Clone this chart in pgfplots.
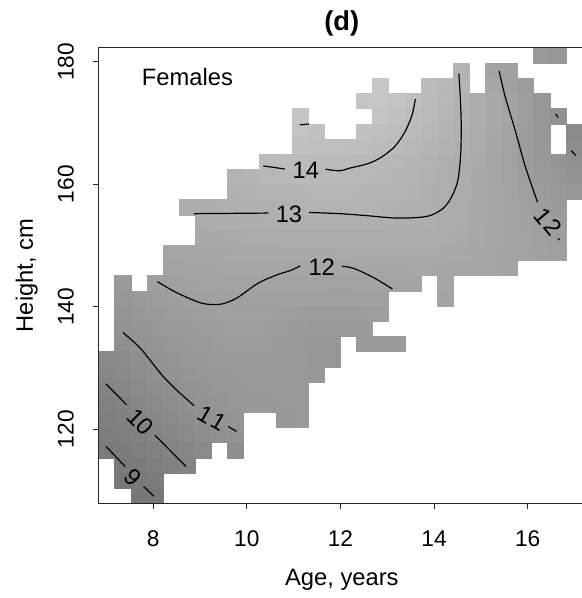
\documentclass[border=0pt]{standalone}
\usepackage{fontspec}
\setmainfont{Liberation Sans}
\usepackage{pgfplots}
\usepackage{pgfplotstable}
\pgfplotsset{compat=1.18}

\pgfplotstableread[row sep=\\]{
c r g\\
27 0 152\\ 28 0 150\\
22 1 178\\ 24 1 162\\ 25 1 160\\
17 2 198\\ 20 2 186\\ 21 2 184\\ 22 2 180\\ 24 2 165\\ 25 2 160\\ 26 2 155\\
16 3 196\\ 17 3 198\\ 18 3 195\\ 19 3 190\\ 20 3 186\\ 21 3 182\\ 22 3 178\\ 23 3 172\\ 24 3 168\\ 25 3 163\\ 26 3 157\\ 27 3 150\\
12 4 196\\ 17 4 195\\ 18 4 192\\ 19 4 188\\ 20 4 185\\ 21 4 181\\ 22 4 177\\ 23 4 172\\ 24 4 168\\ 25 4 163\\ 26 4 157\\ 27 4 150\\ 28 4 145\\
12 5 194\\ 13 5 192\\ 16 5 192\\ 17 5 190\\ 18 5 188\\ 19 5 185\\ 20 5 182\\ 21 5 179\\ 22 5 175\\ 23 5 171\\ 24 5 167\\ 25 5 162\\ 26 5 156\\ 27 5 150\\ 29 5 138\\
12 6 191\\ 13 6 190\\ 14 6 190\\ 15 6 189\\ 16 6 188\\ 17 6 187\\ 18 6 185\\ 19 6 183\\ 20 6 180\\ 21 6 177\\ 22 6 174\\ 23 6 170\\ 24 6 166\\ 25 6 161\\ 26 6 156\\ 27 6 151\\ 29 6 140\\
10 7 186\\ 11 7 187\\ 12 7 187\\ 13 7 187\\ 14 7 186\\ 15 7 186\\ 16 7 185\\ 17 7 184\\ 18 7 182\\ 19 7 180\\ 20 7 178\\ 21 7 175\\ 22 7 172\\ 23 7 169\\ 24 7 165\\ 25 7 161\\ 26 7 156\\ 27 7 152\\ 28 7 148\\ 29 7 143\\
8 8 178\\ 9 8 180\\ 10 8 182\\ 11 8 183\\ 12 8 184\\ 13 8 184\\ 14 8 184\\ 15 8 183\\ 16 8 182\\ 17 8 181\\ 18 8 180\\ 19 8 178\\ 20 8 176\\ 21 8 174\\ 22 8 172\\ 23 8 168\\ 24 8 165\\ 25 8 161\\ 26 8 157\\ 27 8 153\\ 28 8 150\\ 29 8 146\\
8 9 176\\ 9 9 177\\ 10 9 178\\ 11 9 179\\ 12 9 180\\ 13 9 181\\ 14 9 181\\ 15 9 181\\ 16 9 180\\ 17 9 179\\ 18 9 178\\ 19 9 177\\ 20 9 175\\ 21 9 173\\ 22 9 171\\ 23 9 168\\ 24 9 165\\ 25 9 162\\ 26 9 158\\ 27 9 155\\ 28 9 152\\ 29 9 149\\
5 10 172\\ 6 10 172\\ 7 10 173\\ 8 10 174\\ 9 10 175\\ 10 10 175\\ 11 10 176\\ 12 10 177\\ 13 10 178\\ 14 10 178\\ 15 10 178\\ 16 10 178\\ 17 10 177\\ 18 10 176\\ 19 10 175\\ 20 10 174\\ 21 10 172\\ 22 10 170\\ 23 10 168\\ 24 10 165\\ 25 10 162\\ 26 10 159\\ 27 10 156\\ 28 10 153\\
6 11 170\\ 7 11 171\\ 8 11 172\\ 9 11 172\\ 10 11 173\\ 11 11 174\\ 12 11 174\\ 13 11 175\\ 14 11 175\\ 15 11 175\\ 16 11 175\\ 17 11 175\\ 18 11 174\\ 19 11 174\\ 20 11 173\\ 21 11 171\\ 22 11 170\\ 23 11 168\\ 24 11 165\\ 25 11 163\\ 26 11 160\\ 27 11 158\\ 28 11 156\\
6 12 168\\ 7 12 168\\ 8 12 169\\ 9 12 170\\ 10 12 170\\ 11 12 171\\ 12 12 171\\ 13 12 172\\ 14 12 172\\ 15 12 172\\ 16 12 172\\ 17 12 172\\ 18 12 172\\ 19 12 172\\ 20 12 171\\ 21 12 170\\ 22 12 169\\ 23 12 167\\ 24 12 165\\ 25 12 163\\ 26 12 161\\ 27 12 159\\ 28 12 157\\
4 13 164\\ 5 13 165\\ 6 13 166\\ 7 13 166\\ 8 13 167\\ 9 13 167\\ 10 13 167\\ 11 13 168\\ 12 13 168\\ 13 13 168\\ 14 13 168\\ 15 13 169\\ 16 13 169\\ 17 13 169\\ 18 13 169\\ 19 13 169\\ 20 13 169\\ 21 13 168\\ 22 13 167\\ 23 13 166\\ 24 13 164\\ 25 13 163\\ 26 13 161\\ 27 13 160\\ 28 13 158\\
4 14 162\\ 5 14 163\\ 6 14 163\\ 7 14 164\\ 8 14 164\\ 9 14 165\\ 10 14 165\\ 11 14 165\\ 12 14 165\\ 13 14 165\\ 14 14 165\\ 15 14 165\\ 16 14 166\\ 17 14 166\\ 18 14 166\\ 19 14 167\\ 20 14 167\\ 21 14 166\\ 22 14 165\\ 23 14 165\\ 24 14 164\\ 25 14 163\\
1 15 152\\ 3 15 158\\ 4 15 159\\ 5 15 160\\ 6 15 161\\ 7 15 161\\ 8 15 162\\ 9 15 162\\ 10 15 162\\ 11 15 162\\ 12 15 162\\ 13 15 162\\ 14 15 161\\ 15 15 161\\ 16 15 161\\ 17 15 162\\ 18 15 163\\ 19 15 163\\ 21 15 165\\
1 16 150\\ 2 16 152\\ 3 16 155\\ 4 16 157\\ 5 16 158\\ 6 16 159\\ 7 16 160\\ 8 16 160\\ 9 16 160\\ 10 16 160\\ 11 16 159\\ 12 16 159\\ 13 16 158\\ 14 16 158\\ 15 16 158\\ 16 16 159\\ 17 16 160\\ 21 16 163\\
1 17 148\\ 2 17 150\\ 3 17 153\\ 4 17 155\\ 5 17 156\\ 6 17 157\\ 7 17 158\\ 8 17 158\\ 9 17 158\\ 10 17 158\\ 11 17 157\\ 12 17 156\\ 13 17 155\\ 14 17 155\\ 15 17 155\\ 16 17 156\\ 17 17 157\\
1 18 146\\ 2 18 148\\ 3 18 151\\ 4 18 153\\ 5 18 154\\ 6 18 155\\ 7 18 156\\ 8 18 157\\ 9 18 157\\ 10 18 156\\ 11 18 155\\ 12 18 154\\ 13 18 152\\ 14 18 152\\ 15 18 153\\ 16 18 154\\
1 19 143\\ 2 19 146\\ 3 19 148\\ 4 19 151\\ 5 19 152\\ 6 19 153\\ 7 19 155\\ 8 19 155\\ 9 19 155\\ 10 19 155\\ 11 19 154\\ 12 19 152\\ 13 19 151\\ 14 19 150\\ 16 19 152\\ 17 19 153\\ 18 19 154\\
0 20 136\\ 1 20 138\\ 2 20 142\\ 3 20 146\\ 4 20 148\\ 5 20 150\\ 6 20 151\\ 7 20 153\\ 8 20 154\\ 9 20 154\\ 10 20 154\\ 11 20 153\\ 12 20 152\\ 13 20 150\\ 14 20 150\\
0 21 134\\ 1 21 136\\ 2 21 140\\ 3 21 143\\ 4 21 146\\ 5 21 148\\ 6 21 150\\ 7 21 151\\ 8 21 152\\ 9 21 153\\ 10 21 153\\ 11 21 152\\ 12 21 152\\ 13 21 151\\
0 22 131\\ 1 22 133\\ 2 22 137\\ 3 22 140\\ 4 22 143\\ 5 22 146\\ 6 22 148\\ 7 22 150\\ 8 22 151\\ 9 22 152\\ 10 22 152\\ 11 22 152\\ 12 22 152\\
0 23 128\\ 1 23 130\\ 2 23 134\\ 3 23 137\\ 4 23 140\\ 5 23 143\\ 6 23 146\\ 7 23 148\\ 8 23 150\\ 9 23 151\\ 10 23 151\\ 11 23 152\\ 12 23 152\\
0 24 126\\ 1 24 128\\ 2 24 131\\ 3 24 134\\ 4 24 137\\ 5 24 140\\ 6 24 143\\ 7 24 146\\ 8 24 148\\ 11 24 151\\ 12 24 152\\
0 25 124\\ 1 25 125\\ 2 25 128\\ 3 25 131\\ 4 25 134\\ 5 25 137\\ 6 25 140\\ 7 25 143\\ 8 25 146\\
0 26 122\\ 1 26 123\\ 2 26 125\\ 3 26 128\\ 4 26 131\\ 5 26 134\\ 6 26 137\\ 8 26 142\\
1 27 121\\ 2 27 122\\ 3 27 125\\ 4 27 128\\ 5 27 131\\
1 28 119\\ 2 28 120\\ 3 28 122\\
2 29 118\\ 3 29 119\\
}\cells

\begin{document}
\begin{tikzpicture}
\path[use as bounding box] (-73.875pt,-71pt) rectangle (362.6pt,377.5pt);
\begin{axis}[
	at={(0pt,0pt)},
	anchor=south west,
	scale only axis,
	width=365pt,
	height=341.7pt,
	xmin=6.83,
	xmax=17.229,
	ymin=107.9,
	ymax=182.3,
	axis on top,
	clip marker paths=true,
	axis line style={color=black!85,line width=1pt},
	xtick={8,10,...,16},
	ytick={120,140,...,180},
	xtick pos=bottom,
	ytick pos=left,
	tick align=outside,
	major tick length=4pt,
	tick style={color=black!85,line width=0.8pt},
	/pgf/number format/assume math mode=true,
	tick label style={font=\fontsize{17}{19}\selectfont},
	xticklabel style={yshift=-13pt},
	yticklabel style={xshift=-11pt,rotate=90,anchor=south},
	colormap={bw}{gray(0cm)=(0);gray(1cm)=(1)},
	point meta min=0,
	point meta max=255,
	xlabel={Age, years},
	ylabel={Height, cm},
	label style={font=\fontsize{17.8}{20}\selectfont},
	xlabel style={yshift=-10pt},
	ylabel style={yshift=8pt},
	title={\textbf{(d)}},
	title style={font=\fontsize{20.5}{23}\selectfont,yshift=-1pt},
	]

	% image cells, grey level read per cell
	\addplot[scatter,only marks,mark=square*,mark size=6pt,
		scatter src=explicit,
		scatter/use mapped color={draw=mapped color,fill=mapped color},
		mark options={xscale=1.0075,yscale=0.95,line width=0.2pt}]
		table[x expr=6.83+0.3443*(\thisrow{c}+0.5),y expr=182.3-2.48*(\thisrow{r}+0.5),meta=g]{\cells};

	% contours
	\addplot[black,line width=0.9pt] coordinates {(6.99,117.2)(7.40,113.9)};
	\addplot[black,line width=0.9pt] coordinates {(7.79,110.67)(8.015,109.04)};
	\addplot[black,line width=0.9pt] coordinates {(6.99,127.4)(7.43,124.0)};
	\addplot[black,line width=0.9pt] coordinates {(8.04,119.0)(8.70,113.9)};
	\addplot[black,line width=0.9pt,smooth] coordinates {(7.35,135.8)(7.72,133.25)(8.18,128.9)(8.50,126.4)(8.87,123.85)};
	\addplot[black,line width=0.9pt] coordinates {(9.60,120.46)(9.78,119.64)};
	\addplot[black,line width=0.9pt,smooth] coordinates {(8.09,144.1)(8.5,142.3)(9.03,140.6)(9.43,140.4)(9.78,141.4)(10.24,143.85)(10.64,145.2)(10.96,146.0)(11.14,146.7)};
	\addplot[black,line width=0.9pt,smooth] coordinates {(12.03,146.6)(12.27,146.3)(12.7,144.8)(13.11,142.9)};
	\addplot[black,line width=0.9pt] coordinates {(8.87,155.2)(10.46,155.3)};
	\addplot[black,line width=0.9pt,smooth] coordinates {(11.33,155.4)(11.99,155.2)(12.53,154.9)(13.14,154.5)(13.6,154.55)(13.92,154.9)(14.2,156.1)(14.38,158)(14.51,160.7)(14.57,165.06)(14.58,169.95)(14.56,174.3)(14.53,178.1)};
	\addplot[black,line width=0.9pt] coordinates {(10.35,163.0)(10.81,162.5)};
	\addplot[black,line width=0.9pt,smooth] coordinates {(11.68,162.45)(11.99,162.2)(12.18,162.6)(12.6,163.4)(12.89,164.5)(13.17,166.25)(13.38,168.6)(13.53,171.3)(13.6,173.9)};
	\addplot[black,line width=0.9pt] coordinates {(11.13,169.7)(11.33,169.85)};
	\addplot[black,line width=0.9pt,smooth] coordinates {(15.39,178.5)(15.52,174.3)(15.73,168.9)(15.95,162.9)(16.21,157.1)};
	\addplot[black,line width=0.9pt] coordinates {(16.65,151.15)(16.68,150.9)};
	\addplot[black,line width=0.9pt] coordinates {(16.6,171.5)(16.65,170.9)};
	\addplot[black,line width=0.9pt] coordinates {(16.93,165.5)(17.03,164.7)};

	% contour labels
	\node[font=\fontsize{17.8}{20}\selectfont,rotate=-45] at (axis cs:7.57,112.2) {9};
	\node[font=\fontsize{17.8}{20}\selectfont,rotate=-45] at (axis cs:7.72,121.2) {10};
	\node[font=\fontsize{17.8}{20}\selectfont,rotate=-30] at (axis cs:9.25,121.8) {1\kern1.5pt 1};
	\node[font=\fontsize{17.8}{20}\selectfont] at (axis cs:11.6,146.5) {12};
	\node[font=\fontsize{17.8}{20}\selectfont] at (axis cs:10.9,155.1) {13};
	\node[font=\fontsize{17.8}{20}\selectfont] at (axis cs:11.26,162.2) {14};
	\node[font=\fontsize{17.8}{20}\selectfont,rotate=-50] at (axis cs:16.43,153.9) {1\kern1.5pt 2};
	\node[font=\fontsize{17.8}{20}\selectfont] at (axis cs:8.73,177.5) {Females};
\end{axis}
\end{tikzpicture}
\end{document}
